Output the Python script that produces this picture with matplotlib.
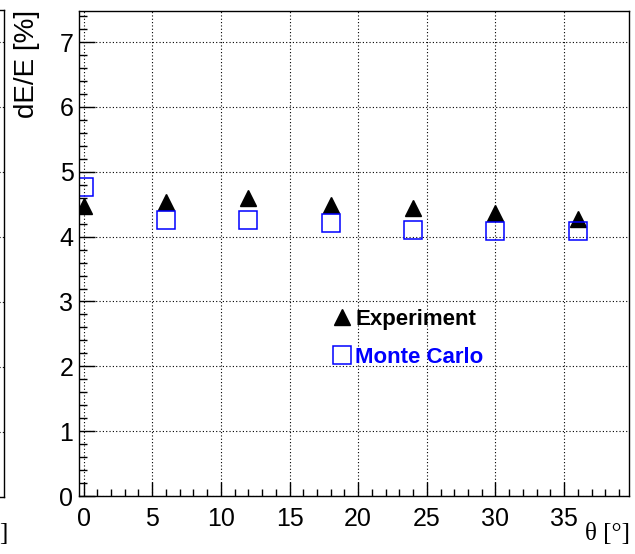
import matplotlib
matplotlib.use("Agg")
import matplotlib.pyplot as plt
from matplotlib.ticker import MultipleLocator

# angles and energy resolution
theta = [0, 6, 12, 18, 24, 30, 36]
res_exp = [4.47, 4.54, 4.60, 4.49, 4.44, 4.36, 4.27]
res_mc = [4.76, 4.25, 4.25, 4.21, 4.11, 4.08, 4.09]

W, H = 635, 554
fig = plt.figure(figsize=(W / 100, H / 100), dpi=100)

grid_kw = dict(color="black", linestyle=(0, (1, 2)), linewidth=0.8)

# sliver of the neighbouring panel on the left
ax0 = fig.add_axes([-0.5, 1 - 497 / H, 0.5 + 4 / W, (497 - 10) / H])
ax0.set_xlim(0, 1)
ax0.set_ylim(0, 7.5)
ax0.set_xticks([])
ax0.yaxis.set_major_locator(MultipleLocator(1))
ax0.tick_params(axis="y", length=0, labelleft=False)
ax0.grid(True, axis="y", **grid_kw)
for s in ax0.spines.values():
    s.set_linewidth(1.0)
fig.text(7 / W, 1 - 534 / H, "]", ha="right", va="center",
         fontsize=18, family="Liberation Serif")

# main panel
ax = fig.add_axes([79 / W, 1 - 496 / H, (628.7 - 79) / W, (496 - 11) / H])
ax.set_xlim(-0.33, 39.7)
ax.set_ylim(0, 7.48)

ax.plot(theta, res_exp, linestyle="none", marker="^", markersize=11.5,
        color="black", label="Experiment")
ax.plot(theta, res_mc, linestyle="none", marker="s", markersize=13,
        markerfacecolor="none", markeredgecolor="blue", markeredgewidth=1.1,
        label="Monte Carlo")

ax.xaxis.set_major_locator(MultipleLocator(5))
ax.xaxis.set_minor_locator(MultipleLocator(1))
ax.yaxis.set_major_locator(MultipleLocator(1))
ax.yaxis.set_minor_locator(MultipleLocator(0.2))
ax.tick_params(axis="both", which="both", direction="in", top=False, right=False)
ax.tick_params(axis="x", which="major", length=10, width=1.0, pad=8)
ax.tick_params(axis="x", which="minor", length=5, width=1.0)
ax.tick_params(axis="y", which="major", length=11.5, width=1.0, pad=4)
ax.tick_params(axis="y", which="minor", length=5.5, width=1.0)
for lab in ax.get_xticklabels() + ax.get_yticklabels():
    lab.set_family("Liberation Sans")
    lab.set_fontsize(18)
ax.grid(True, which="major", **grid_kw)
for s in ax.spines.values():
    s.set_linewidth(1.0)

fig.text(27 / W, 1 - 10 / H, "dE/E [%]", rotation=90, ha="center", va="top",
         fontsize=20, family="Liberation Sans")
fig.text(630 / W, 1 - 534 / H, "θ [°]", ha="right", va="center",
         fontsize=18, family="Liberation Serif")

ax.legend(loc="upper left", bbox_to_anchor=(333 / W, 1 - 309 / H),
          bbox_transform=fig.transFigure, frameon=False, handlelength=0.8,
          handletextpad=0.2, labelspacing=0.75, borderpad=0, borderaxespad=0,
          labelcolor="markeredgecolor",
          prop={"family": "Liberation Sans", "weight": "bold", "size": 16})

fig.savefig("out.png", dpi=100)
